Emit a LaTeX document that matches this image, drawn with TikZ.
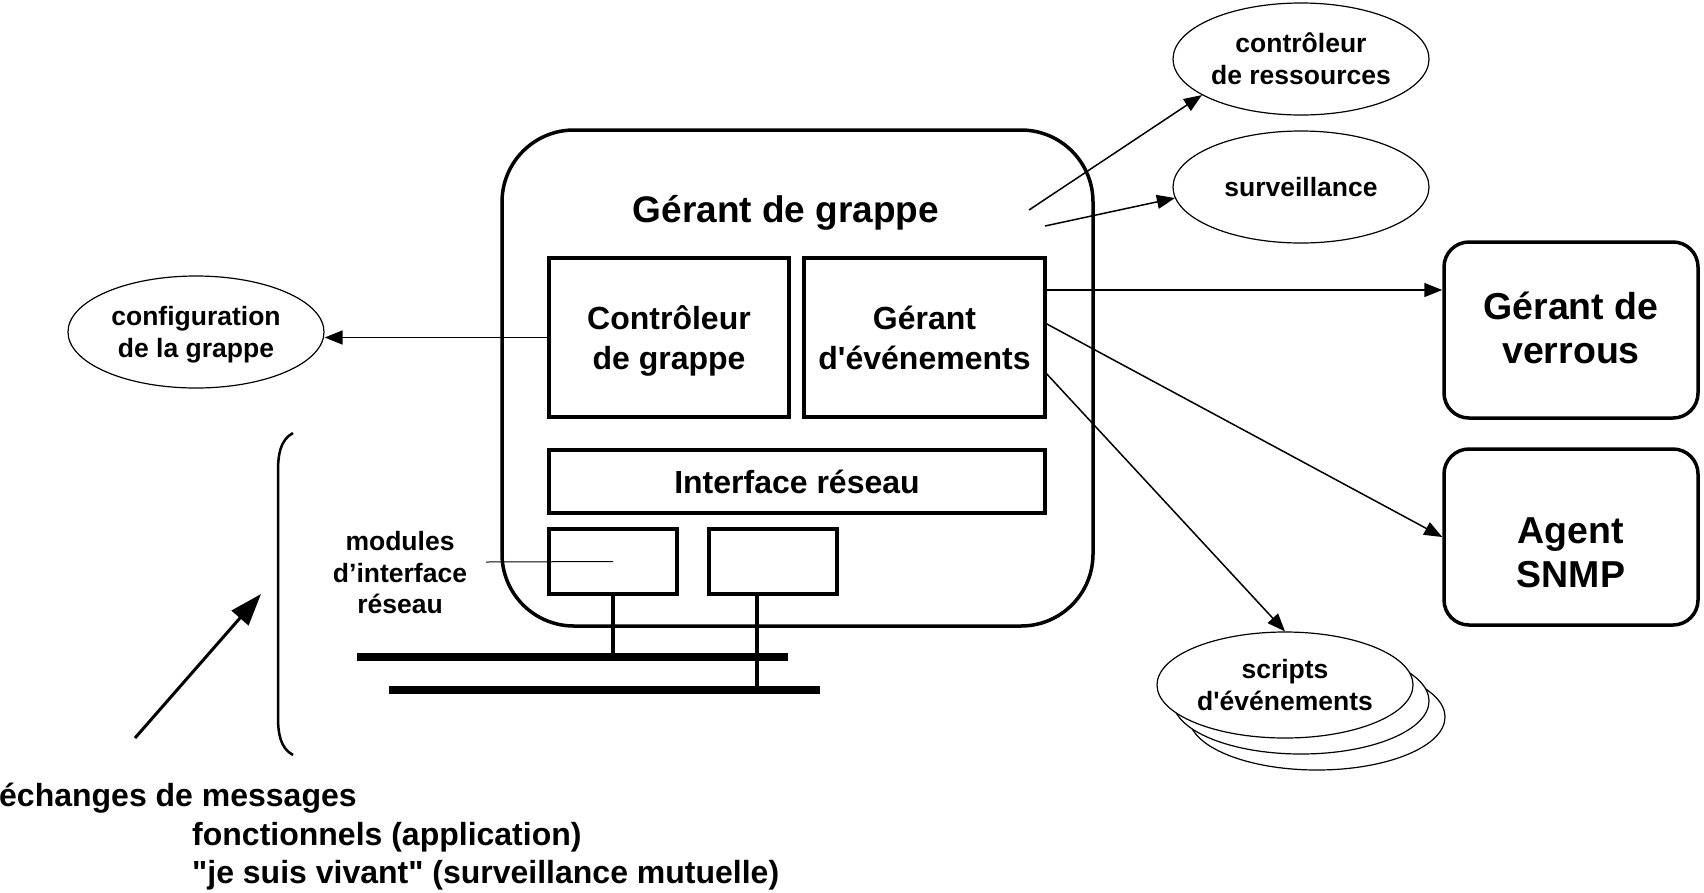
\documentclass[tikz,border=0pt]{standalone}
\usepackage{fontspec}
\setmainfont{Liberation Sans}[Ligatures=TeXOff]
\usetikzlibrary{arrows.meta,shapes.geometric}
\newcommand{\nodepth}[1]{\raisebox{0pt}[\height][0pt]{#1}}
\begin{document}
\begin{tikzpicture}[x=1pt,y=-1pt,
  every node/.style={align=center, inner sep=0pt},
  bigtext/.style={font=\fontsize{37.5}{44}\selectfont\bfseries},
  titletext/.style={font=\fontsize{37}{44}\selectfont\bfseries},
  midtext/.style={font=\fontsize{32}{40}\selectfont\bfseries},
  smalltext/.style={font=\fontsize{26.5}{32}\selectfont\bfseries},
  labeltext/.style={font=\fontsize{26.5}{31.5}\selectfont\bfseries},
  msgtext/.style={font=\fontsize{32}{38}\selectfont\bfseries},
  thickbox/.style={draw, rectangle, line width=3.5pt, fill=white},
  roundbox/.style={draw, rectangle, line width=3.5pt, rounded corners=25pt, minimum width=254pt, minimum height=176pt},
  ell/.style={draw, ellipse, line width=1.2pt, fill=white, minimum width=256pt, minimum height=112pt},
  arr/.style={line width=1.5pt, -{Triangle[length=18pt,width=14pt]}},
  bus/.style={line width=8pt},
  stub/.style={line width=3.5pt},
]
\useasboundingbox (0,0) rectangle (1704,892);

% main cluster manager
\node[draw, rectangle, line width=3.5pt, rounded corners=72pt, minimum width=591pt, minimum height=496pt] (gg) at (797.5,378) {};
\node[titletext] (title) at (786,213) {Gérant de grappe};
\node[thickbox, midtext, minimum width=240pt, minimum height=159pt] (cg) at (669,337.5) {Contrôleur\\\nodepth{de grappe}};
\node[thickbox, midtext, minimum width=241pt, minimum height=159pt] (ge) at (924.5,337.5) {Gérant\\d'événements};
\node[thickbox, midtext, minimum width=496pt, minimum height=63pt] (ir) at (797,481.5) {Interface réseau};
\node[thickbox, minimum width=128pt, minimum height=65pt] (m1) at (613,561.5) {};
\node[thickbox, minimum width=128pt, minimum height=65pt] (m2) at (773,561.5) {};

% buses
\coordinate (b1l) at (357,657);
\coordinate (b1r) at (788,657);
\coordinate (b2l) at (389,690);
\coordinate (b2r) at (820,690);
\draw[bus] (b1l) -- (b1r);
\draw[bus] (b2l) -- (b2r);
\draw[stub] (m1.south) -- (m1.south |- b1l);
\draw[stub] ([xshift=-16pt]m2.south) -- ([xshift=-16pt]m2.south |- b2l);

% module label
\node[labeltext] (ml) at (400,573) {modules\\d’interface\\réseau};
\coordinate (mla) at (486,562);
\draw[line width=1pt] (mla) -- (m1.center);

% ellipses
\node[ell, smalltext] (cfg) at (196,332) {configuration\\\nodepth{de la grappe}};
\node[ell, smalltext] (cr) at (1301,59) {contrôleur\\de ressources};
\node[ell, smalltext] (sv) at (1301,187) {surveillance};
\node[ell, minimum height=106pt] (sc3) at (1317,717) {};
\node[ell, minimum height=106pt] (sc2) at (1301,701) {};
\node[ell, smalltext, minimum height=106pt] (sc1) at (1285,685) {scripts\\d'événements};

% right boxes
\node[roundbox] (gv) at (1571,330) {};
\node[bigtext] (gvt) at ([yshift=2pt]gv.center) {Gérant de\\verrous};
\node[roundbox] (snmp) at (1571,537) {};
\node[bigtext] (snmpt) at ([yshift=-16pt]snmp.center) {Agent\\SNMP};

% connectors
\draw[arr] (cg.west) -- (cg.west -| cfg.east);
\coordinate (t1) at (1029,210);
\coordinate (t2) at (1045,226);
\draw[arr] (t1) -- (cr.200);
\draw[arr] (t2) -- (sv.185);
\coordinate (g1) at (1045,290);
\coordinate (g2) at (1045,323);
\coordinate (g3) at (1045,372);
\draw[arr] (g1) -- (g1 -| gv.west);
\draw[arr] (g2) -- (snmp.west);
\draw[arr] (g3) -- (sc1.north);

% brace
\draw[line width=2.5pt] (293,433) .. controls (280,440) and (278,455) .. (278,472) -- (278,716) .. controls (278,733) and (280,748) .. (293,755);

% messages arrow and text
\coordinate (ms) at (135,738);
\coordinate (mt) at (261,594);
\draw[line width=3pt, -{Triangle[length=32pt,width=22pt]}] (ms) -- (mt);
\node[msgtext, anchor=west] (x1) at (-1,798) {échanges de messages};
\node[msgtext, anchor=west] (x2) at (192,837) {fonctionnels (application)};
\node[msgtext, anchor=west] (x3) at (192,875) {"je suis vivant" (surveillance mutuelle)};
\end{tikzpicture}
\end{document}
